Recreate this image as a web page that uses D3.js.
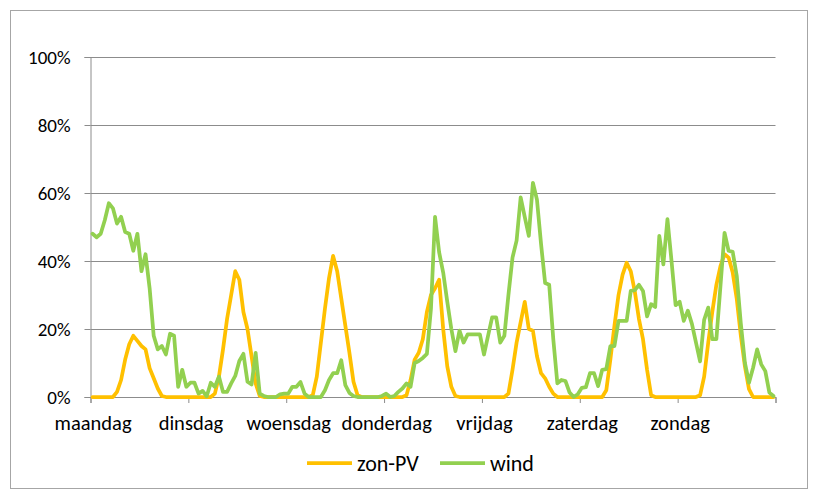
<!DOCTYPE html>
<html>
<head>
<meta charset="utf-8">
<script src="https://cdn.jsdelivr.net/npm/d3@7"></script>
<style>
  body { margin: 0; background: #fff; }
  text { font-family: Carlito, Calibri, Lato, sans-serif; fill: #000; }
</style>
</head>
<body>
<div id="chart"></div>
<script>
// size of the drawing
var svgWidth = 814;
var svgHeight = 494;

// plot area inside the frame
var margin = { top: 57, right: 38.5, bottom: 97, left: 90.5 };
var chartWidth = svgWidth - margin.left - margin.right;
var chartHeight = svgHeight - margin.top - margin.bottom;

// day labels, one per 24 hours
var days = ["maandag", "dinsdag", "woensdag", "donderdag", "vrijdag", "zaterdag", "zondag"];
var yTicks = [0, 0.2, 0.4, 0.6, 0.8, 1];

// hourly output, % of capacity (168 hours)
var zonPV = [
  0, 0, 0, 0, 0, 0, 1.5, 5, 11, 15.5, 18, 16.5, 15, 14, 8.5, 5.5, 2.5, 0.3, 0, 0, 0, 0, 0, 0,
  0, 0, 0, 0, 0, 0, 1, 6, 14, 23, 30, 37, 34.5, 25, 20, 12, 4, 0.3, 0, 0, 0, 0, 0, 0,
  0, 0, 0, 0, 0, 0, 0.5, 6, 16, 26, 35, 41.5, 37, 29, 21, 13, 4.5, 0.5, 0, 0, 0, 0, 0, 0,
  0, 0, 0, 0, 0, 0.5, 5, 11, 13, 17, 25, 30, 32, 34.5, 20, 9, 3, 0.3, 0, 0, 0, 0, 0, 0,
  0, 0, 0, 0, 0, 0, 1, 8, 16, 22, 28, 20, 19.5, 12, 7, 5.5, 3, 1, 0, 0, 0, 0, 0, 0,
  0, 0, 0, 0, 0, 0, 2, 11, 21, 30, 36, 39.5, 37, 31, 23, 17, 8, 0.5, 0, 0, 0, 0, 0, 0,
  0, 0, 0, 0, 0, 0.5, 6, 16, 25, 33, 38.5, 42, 41, 36.6, 28.8, 18, 9, 2.3, 0, 0, 0, 0, 0, 0
];
var wind = [
  48, 47, 48, 52, 57, 55.5, 51, 53, 48.5, 48, 43, 48, 37, 42, 32, 18, 14, 15, 12.5, 18.6, 18, 3, 8, 3,
  4.2, 4.2, 1, 1.8, 0.2, 4.2, 3, 6, 1.5, 1.5, 4, 6.2, 10.6, 12.7, 4.5, 3.7, 13, 1, 0.3, 0, 0, 0, 0.8, 1,
  1, 3, 3, 4.4, 1, 0, 0, 0, 0, 2, 5, 7, 7, 10.8, 3.5, 1.2, 0.3, 0, 0, 0, 0, 0, 0, 0.3,
  1, 0, 0.3, 1.5, 2.5, 4, 3, 10, 10.6, 11.5, 12.7, 26, 53, 42.6, 36.6, 28, 20, 13.5, 19.5, 16, 18.4, 18.4, 18.4, 18.4,
  12.5, 18, 23.4, 23.4, 16, 18, 30, 41, 46, 58.7, 53, 47.4, 63, 58, 45, 33.5, 33, 17, 4, 5, 4.7, 1.3, 0, 0.8,
  2.7, 2.9, 7, 7, 3.2, 8, 8.2, 15, 15, 22.4, 22.4, 22.4, 31.2, 31.4, 33, 31.2, 23.7, 27.3, 26.5, 47.4, 39, 52.3, 40, 27,
  28, 22.4, 25.4, 21.5, 16, 10.5, 22.7, 26.3, 17, 17, 32.6, 48.3, 43, 42.7, 35.6, 21.6, 10, 4.2, 8.6, 14, 9.6, 7.6, 1.3, 0.3
];

var svg = d3.select("#chart").append("svg").attr("width", svgWidth).attr("height", svgHeight);

// outer chart frame
svg.append("rect")
  .attr("x", 10.5).attr("y", 10.5)
  .attr("width", 797).attr("height", 478)
  .attr("fill", "none").attr("stroke", "#a6a6a6");

var chartGroup = svg.append("g").attr("transform", `translate(${margin.left}, ${margin.top})`);

var xScale = d3.scaleLinear().domain([0, 168]).range([0, chartWidth]);
var yScale = d3.scaleLinear().domain([0, 1]).range([chartHeight, 0]);

// gridlines
chartGroup.append("g")
  .call(d3.axisLeft(yScale).tickValues(yTicks).tickSize(-chartWidth).tickFormat(""))
  .call(g => g.select(".domain").remove())
  .call(g => g.selectAll("line").attr("stroke", "#8c8c8c"));

// y axis with percent labels
chartGroup.append("g")
  .call(d3.axisLeft(yScale).tickValues(yTicks).tickSize(6).tickPadding(14).tickFormat(d3.format(".0%")))
  .call(g => g.select(".domain").attr("stroke", "#8c8c8c"))
  .call(g => g.selectAll("line").attr("stroke", "#8c8c8c"))
  .call(g => g.selectAll("text").style("font-size", "19px"));

// x axis, ticks at day boundaries
chartGroup.append("g")
  .attr("transform", `translate(0, ${chartHeight})`)
  .call(d3.axisBottom(xScale).tickValues(d3.range(0, 169, 24)).tickSize(6).tickFormat(""))
  .call(g => g.select(".domain").attr("stroke", "#8c8c8c"))
  .call(g => g.selectAll("line").attr("stroke", "#8c8c8c"));

// day labels under the first hour of each day
chartGroup.append("g")
  .attr("transform", `translate(0, ${chartHeight})`)
  .call(d3.axisBottom(xScale).tickValues(days.map((d, i) => i * 24 + 0.5)).tickSize(0).tickPadding(18)
    .tickFormat((d, i) => days[i]))
  .call(g => g.select(".domain").remove())
  .call(g => g.selectAll("text").style("font-size", "20.5px"));

var line = d3.line()
  .x((d, i) => xScale(i + 0.5))
  .y(d => yScale(d / 100));

chartGroup.append("path").datum(zonPV)
  .attr("d", line).attr("fill", "none")
  .attr("stroke", "#FFC000").attr("stroke-width", 3.75)
  .attr("stroke-linejoin", "round").attr("stroke-linecap", "round");

chartGroup.append("path").datum(wind)
  .attr("d", line).attr("fill", "none")
  .attr("stroke", "#92D050").attr("stroke-width", 3.75)
  .attr("stroke-linejoin", "round").attr("stroke-linecap", "round");

// legend
var legend = [
  { name: "zon-PV", color: "#FFC000", x: 307 },
  { name: "wind", color: "#92D050", x: 440 }
];
var legendGroup = svg.append("g").attr("transform", "translate(0, 463)");
legend.forEach(function(l) {
  legendGroup.append("line")
    .attr("x1", l.x).attr("x2", l.x + 45)
    .attr("y1", 0).attr("y2", 0)
    .attr("stroke", l.color).attr("stroke-width", 3.75);
  legendGroup.append("text")
    .attr("x", l.x + 50).attr("y", 0).attr("dy", "0.35em")
    .style("font-size", "22px")
    .text(l.name);
});
</script>
</body>
</html>
